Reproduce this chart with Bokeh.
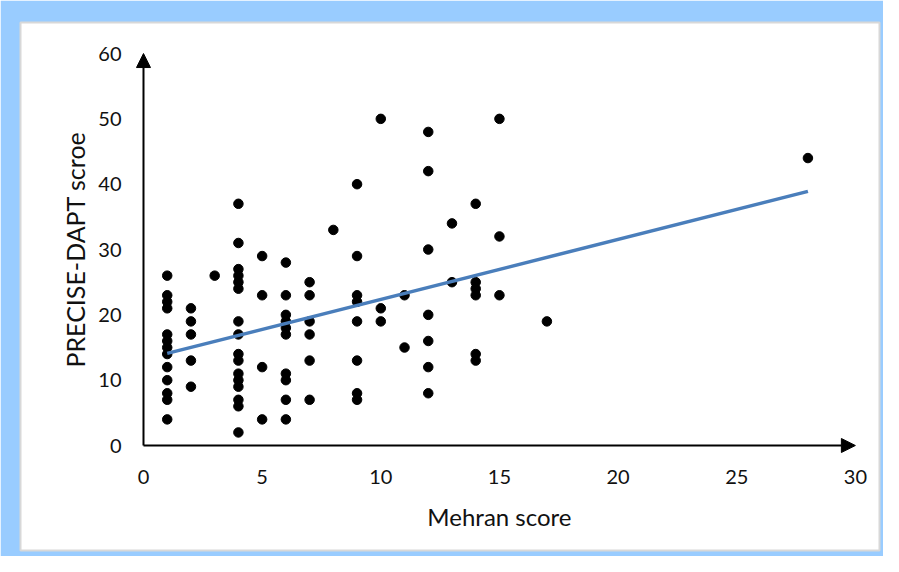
import math
from bokeh.plotting import figure
from bokeh.models import ColumnDataSource, Range1d, Arrow, NormalHead
from bokeh.core.properties import value
from bokeh.embed import file_html
from bokeh.resources import INLINE

# ---- data ----
mehran = ([1]*13 + [2]*5 + [3] + [4]*16 + [5]*4 + [6]*10 + [7]*6 + [8] + [9]*8
          + [10]*3 + [11]*2 + [12]*7 + [13]*2 + [14]*6 + [15]*3 + [17] + [28])
precise = ([26, 23, 22, 21, 17, 16, 15, 14, 12, 10, 8, 7, 4]
           + [21, 19, 17, 13, 9]
           + [26]
           + [37, 31, 27, 26, 25, 24, 19, 17, 14, 13, 11, 10, 9, 7, 6, 2]
           + [29, 23, 12, 4]
           + [28, 23, 20, 19, 18, 17, 11, 10, 7, 4]
           + [25, 23, 19, 17, 13, 7]
           + [33]
           + [40, 29, 23, 22, 19, 13, 8, 7]
           + [50, 21, 19]
           + [23, 15]
           + [48, 42, 30, 20, 16, 12, 8]
           + [34, 25]
           + [37, 25, 24, 23, 14, 13]
           + [50, 32, 23]
           + [19]
           + [44])
fit_x = [1, 28]
fit_y = [14.1, 38.9]

x_ticks = [0, 5, 10, 15, 20, 25, 30]
x_tick_labels = ["0", "5", "10", "15", "20", "25", "30"]
y_ticks = [0, 10, 20, 30, 40, 50, 60]
y_tick_labels = ["0", "10", "20", "30", "40", "50", "60"]
x_title = "Mehran score"
y_title = "PRECISE-DAPT scroe"

FONT = "Lato"
BLUE_FRAME = "#99CCFF"

p = figure(width=883, height=556, output_backend="svg", toolbar_location=None,
           x_range=Range1d(-5.183, 31.016), y_range=Range1d(-16.07, 64.75),
           x_axis_location=None, y_axis_location=None)
p.min_border_left = 20
p.min_border_right = 4
p.min_border_top = 22
p.min_border_bottom = 6
p.border_fill_color = BLUE_FRAME
p.background_fill_color = "white"
p.outline_line_color = "#D8D8D8"
p.outline_line_width = 2
p.xgrid.visible = False
p.ygrid.visible = False

# axes drawn as arrows at the data origin
p.add_layout(Arrow(end=NormalHead(size=14, fill_color="black", line_color="black"),
                   x_start=0, y_start=0, x_end=30, y_end=0,
                   line_color="black", line_width=2))
p.add_layout(Arrow(end=NormalHead(size=14, fill_color="black", line_color="black"),
                   x_start=0, y_start=0, x_end=0, y_end=60,
                   line_color="black", line_width=2))

# tick labels
xt = ColumnDataSource(dict(x=x_ticks, y=[0]*len(x_ticks), t=x_tick_labels))
p.text(x="x", y="y", text="t", source=xt, text_font=value(FONT),
       text_font_size="20px", text_color="#111111", text_align="center",
       text_baseline="middle", y_offset=31)
yt = ColumnDataSource(dict(x=[0]*len(y_ticks), y=y_ticks, t=y_tick_labels))
p.text(x="x", y="y", text="t", source=yt, text_font=value(FONT),
       text_font_size="20px", text_color="#111111", text_align="right",
       text_baseline="middle", x_offset=-22)

# axis titles
p.text(x=[15], y=[0], text=[x_title], text_font=value(FONT),
       text_font_size="24px", text_color="#111111", text_align="center",
       text_baseline="middle", y_offset=71)
p.text(x=[0], y=[30], text=[y_title], text_font=value(FONT),
       text_font_size="25px", text_color="#111111", text_align="center",
       text_baseline="middle", x_offset=-68, angle=math.pi/2)

# data
src = ColumnDataSource(dict(x=mehran, y=precise))
p.scatter(x="x", y="y", source=src, size=9.5, color="black")
p.line(x=fit_x, y=fit_y, line_color="#4A7EBB", line_width=3.5)

open("out.html", "w").write(file_html(p, INLINE))
